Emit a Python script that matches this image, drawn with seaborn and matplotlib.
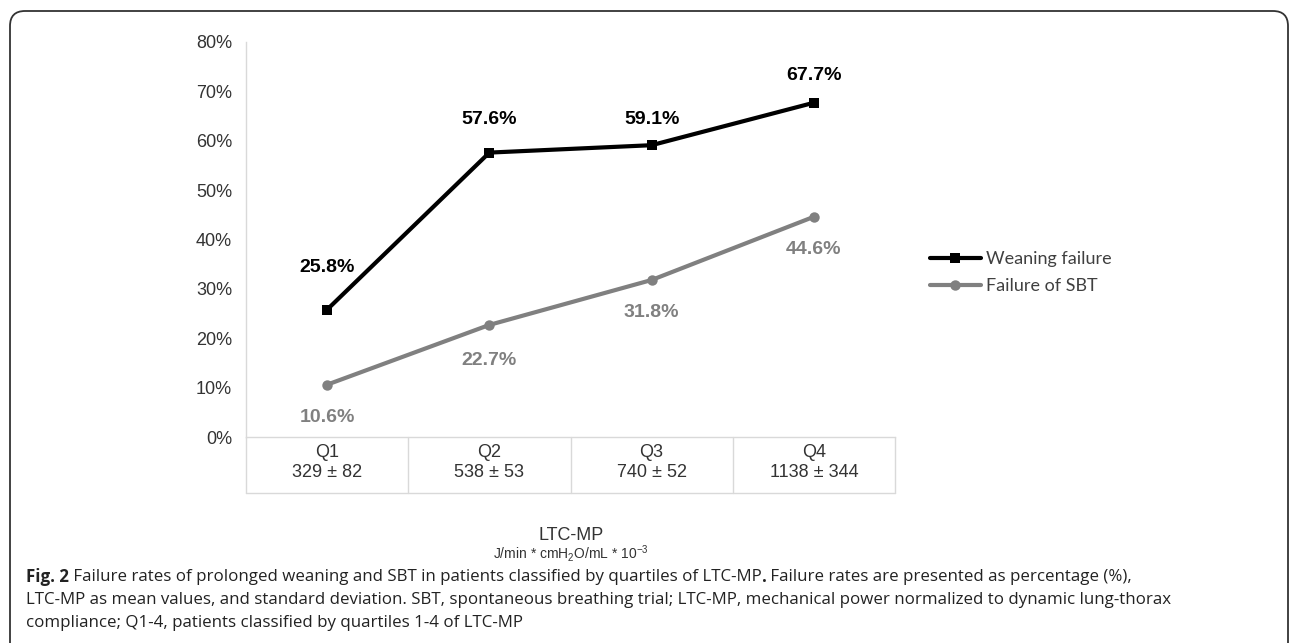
import matplotlib
matplotlib.use("Agg")
import numpy as np
import pandas as pd
import matplotlib.pyplot as plt
import seaborn as sns
from matplotlib.patches import FancyBboxPatch
from matplotlib.lines import Line2D

# -----------------------------
# Data
# -----------------------------
quartiles = ["Q1", "Q2", "Q3", "Q4"]
ltc_mp = ["329 ± 82", "538 ± 53", "740 ± 52", "1138 ± 344"]
weaning_failure = [25.8, 57.6, 59.1, 67.7]
sbt_failure = [10.6, 22.7, 31.8, 44.6]
series_names = ["Weaning failure", "Failure of SBT"]
y_ticks = [0, 10, 20, 30, 40, 50, 60, 70, 80]

caption_bold = "Fig. 2"
caption_1 = " Failure rates of prolonged weaning and SBT in patients classified by quartiles of LTC-MP"
caption_2 = " Failure rates are presented as percentage (%),"
caption_lines = [
    "LTC-MP as mean values, and standard deviation. SBT, spontaneous breathing trial; LTC-MP, mechanical power normalized to dynamic lung-thorax",
    "compliance; Q1-4, patients classified by quartiles 1-4 of LTC-MP",
]

df = pd.DataFrame({
    "pos": list(range(len(quartiles))) * 2,
    "rate": weaning_failure + sbt_failure,
    "series": [series_names[0]] * 4 + [series_names[1]] * 4,
})

BLACK = "#000000"
GRAY = "#808080"
TEXT = "#333333"
GRID = "#d9d9d9"

sns.set_theme(style="white")
plt.rcParams["font.family"] = ["Liberation Sans", "DejaVu Sans"]
plt.rcParams["mathtext.fontset"] = "custom"
plt.rcParams["mathtext.rm"] = "Liberation Sans"
plt.rcParams["mathtext.it"] = "Liberation Sans"

W, H = 1292, 643
fig = plt.figure(figsize=(W / 100, H / 100), dpi=100)
ax = fig.add_axes([246 / W, 1 - 437 / H, (895 - 246) / W, (437 - 42) / H])

sns.lineplot(
    data=df, x="pos", y="rate", hue="series", style="series",
    markers={series_names[0]: "s", series_names[1]: "o"}, dashes=False,
    palette={series_names[0]: BLACK, series_names[1]: GRAY},
    linewidth=3, markersize=7.5, markeredgewidth=0, legend=False, ax=ax,
)

# data labels (offsets in pixels, as placed in the original)
up_px = [42, 33, 26, 27]
down_px = [33, 36, 33, 33]
for i, v in enumerate(weaning_failure):
    ax.annotate(f"{v}%", (i, v), xytext=(0, up_px[i] * 0.72), textcoords="offset points",
                ha="center", va="center", fontsize=14, fontweight="bold", color=BLACK)
for i, v in enumerate(sbt_failure):
    ax.annotate(f"{v}%", (i, v), xytext=(0, -down_px[i] * 0.72), textcoords="offset points",
                ha="center", va="center", fontsize=14, fontweight="bold", color=GRAY)

# axes
ax.set_xlim(-0.5, len(quartiles) - 0.5)
ax.set_ylim(0, 80)
ax.set_yticks(y_ticks)
ax.set_yticklabels([f"{v}%" for v in y_ticks])
ax.set_xticks(range(len(quartiles)))
ax.set_xticklabels([f"{q}\n{m}" for q, m in zip(quartiles, ltc_mp)])
ax.tick_params(axis="y", length=0, pad=10, labelsize=13, labelcolor=TEXT)
ax.tick_params(axis="x", length=0, pad=5, labelsize=13, labelcolor=TEXT)
ax.set_xlabel("")
ax.set_ylabel("")
for s in ["top", "right"]:
    ax.spines[s].set_visible(False)
for s in ["left", "bottom"]:
    ax.spines[s].set_color(GRID)
    ax.spines[s].set_linewidth(1)

# table-like category axis
tb = -(493 - 437) / (437 - 42)
trans = ax.get_xaxis_transform()
for x in np.arange(-0.5, len(quartiles), 1.0):
    ax.plot([x, x], [tb, 0], transform=trans, color=GRID, lw=1, clip_on=False)
ax.plot([-0.5, len(quartiles) - 0.5], [tb, tb], transform=trans, color=GRID, lw=1, clip_on=False)

fig.text(571 / W, 1 - 535 / H, "LTC-MP", ha="center", va="center", fontsize=13, color=TEXT)
fig.text(571 / W, 1 - 553 / H, r"J/min * cmH$_2$O/mL * 10$^{-3}$", ha="center", va="center",
         fontsize=10, color=TEXT)

# legend
handles = [
    Line2D([], [], color=BLACK, lw=3, marker="s", markersize=7.5, mew=0),
    Line2D([], [], color=GRAY, lw=3, marker="o", markersize=7.5, mew=0),
]
leg = fig.legend(handles, series_names, loc="upper left", bbox_to_anchor=(930 / W, 1 - 251 / H),
                 frameon=False, borderpad=0, borderaxespad=0, handlelength=2.8, handletextpad=0.3,
                 labelspacing=0.6, prop={"family": "Lato", "size": 13})
for t in leg.get_texts():
    t.set_color("#404040")

# caption
cap_font = {"family": "Open Sans", "size": 12.2, "color": "#222222"}
x0 = 26 / W
ys = [577, 600, 623]
fig.canvas.draw()
r = fig.canvas.get_renderer()
t = fig.text(x0, 1 - ys[0] / H, caption_bold, ha="left", va="center", fontweight="bold", **cap_font)
x = t.get_window_extent(r).x1 / W
t = fig.text(x, 1 - ys[0] / H, caption_1, ha="left", va="center", **cap_font)
x = t.get_window_extent(r).x1 / W
t = fig.text(x, 1 - ys[0] / H, ".", ha="left", va="center", fontweight="bold", **cap_font)
x = t.get_window_extent(r).x1 / W
fig.text(x, 1 - ys[0] / H, caption_2, ha="left", va="center", **cap_font)
for line, y in zip(caption_lines, ys[1:]):
    fig.text(x0, 1 - y / H, line, ha="left", va="center", **cap_font)

# rounded frame around the figure
fig.add_artist(FancyBboxPatch((0.10, -0.5), 12.78, 6.82, boxstyle="round,pad=0,rounding_size=0.15",
                              transform=fig.dpi_scale_trans, fill=False, ec="#333333", lw=1.3,
                              clip_on=False))

fig.savefig("out.png", dpi=100)
